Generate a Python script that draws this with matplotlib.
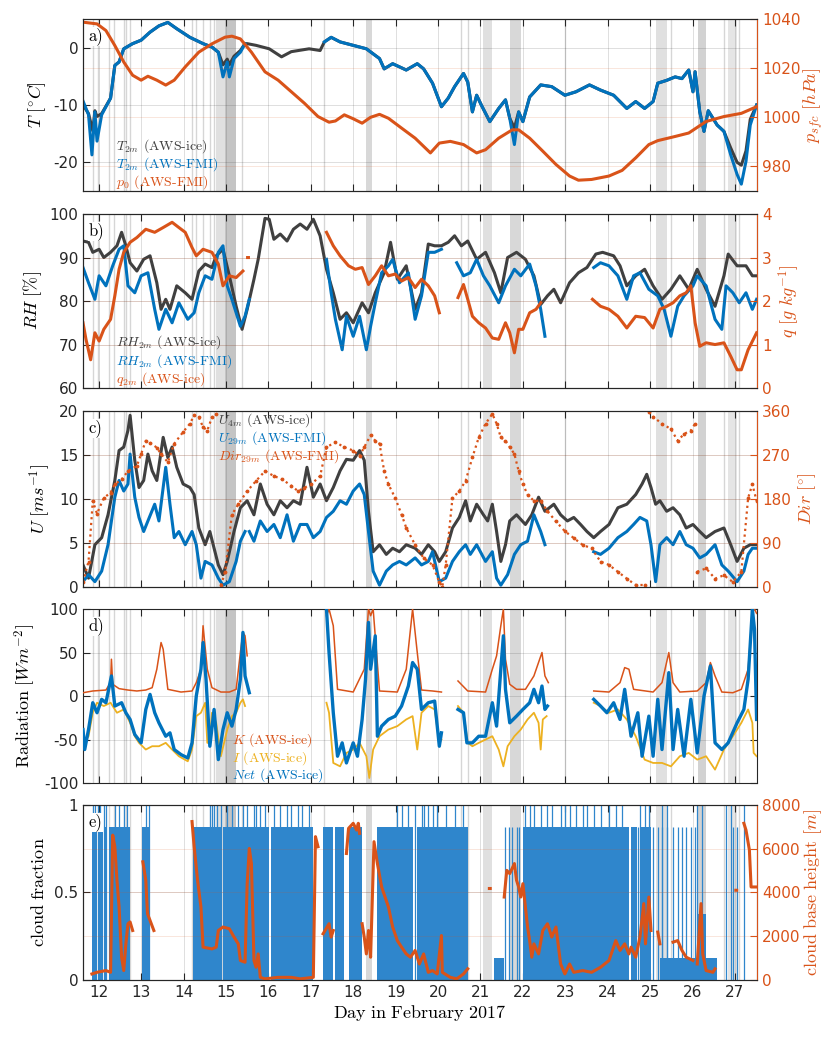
import numpy as np
import matplotlib
matplotlib.use("Agg")
import matplotlib.pyplot as plt

plt.rcParams['mathtext.fontset'] = 'cm'
plt.rcParams['axes.unicode_minus'] = False

nan = np.nan
GAP = (nan, nan)

BLUE = '#0072BD'
ORANGE = '#D95319'
YELLOW = '#EDB120'
GREY = '#404040'
BARBLUE = '#2F86CC'
AXCOL = '#262626'
SERIF = ['cmr10', 'DejaVu Serif']

XMIN, XMAX = 11.63, 27.52
day_ticks = list(range(12, 28))

# shaded periods (start day, end day, opacity) and single thin marks
shade_spans = [(14.77, 14.98, 0.22), (14.98, 15.24, 0.42), (18.31, 18.44, 0.28),
               (21.07, 21.28, 0.22), (21.69, 21.95, 0.28), (25.13, 25.39, 0.22),
               (26.12, 26.32, 0.32), (26.84, 27.05, 0.18)]
shade_lines = [11.86, 11.98, 12.25, 12.36, 12.59, 12.64, 12.74, 14.20, 14.30, 14.46,
               14.62, 14.72, 15.38, 17.30, 20.55, 20.70, 22.99, 25.49, 26.74, 27.10]

# ---- a) temperature and pressure
t2m_ice = [(11.63, -10.0), (11.76, -11.5), (11.86, -14.5), (11.91, -11.0), (11.96, -12.0),
           (12.07, -11.5), (12.28, -8.8), (12.38, -3.1), (12.48, -2.5), (12.59, -0.2),
           (12.80, 0.7), (13.00, 1.3), (13.21, 2.7), (13.42, 3.8), (13.63, 4.4),
           (13.84, 3.3), (14.15, 1.8), (14.46, 0.7), (14.67, 0.1), (14.82, -0.8),
           (14.93, -3.0), (15.03, -2.0), (15.08, -3.0), (15.19, -1.5), (15.34, -0.5),
           (15.45, 0.7), (15.50, 0.7), (15.71, 0.4), (16.02, -0.2), (16.31, -1.6),
           (16.54, -0.7), (16.96, -0.2), (17.22, -0.5), (17.32, 1.0), (17.48, 1.8),
           (17.69, 1.0), (18.00, 0.4), (18.31, -0.2), (18.62, -1.9), (18.73, -3.7),
           (18.93, -2.8), (19.25, -3.9), (19.51, -2.8), (19.66, -3.7), (19.87, -6.2),
           (20.08, -10.3), (20.24, -8.8), (20.39, -6.8), (20.60, -4.5), (20.70, -6.0),
           (20.81, -11.2), (20.91, -8.3), (21.02, -10.0), (21.22, -12.9), (21.43, -10.6),
           (21.59, -9.1), (21.69, -12.3), (21.80, -14.0), (21.90, -11.2), (22.00, -12.9),
           (22.16, -8.6), (22.42, -6.5), (22.68, -6.8), (22.99, -8.3), (23.25, -7.7),
           (23.57, -6.5), (23.83, -7.4), (24.14, -8.3), (24.45, -10.6), (24.66, -9.4),
           (24.87, -10.6), (25.07, -9.4), (25.18, -6.2), (25.39, -5.7), (25.59, -5.1),
           (25.75, -5.4), (25.91, -3.9), (26.01, -7.7), (26.06, -4.2), (26.17, -11.2),
           (26.27, -14.6), (26.37, -11.0), (26.58, -13.5), (26.74, -14.6), (26.90, -17.5),
           (27.05, -20.0), (27.15, -20.5), (27.26, -18.0), (27.36, -12.5), (27.51, -10.0)]
t2m_fmi = [(11.63, -9.3), (11.76, -11.7), (11.84, -18.7), (11.91, -11.2), (11.96, -16.3),
           (12.07, -11.7), (12.28, -8.8), (12.38, -3.1), (12.48, -2.5), (12.59, -0.2),
           (12.80, 0.7), (13.00, 1.3), (13.21, 2.7), (13.42, 3.8), (13.63, 4.4),
           (13.84, 3.3), (14.15, 1.8), (14.46, 0.7), (14.67, 0.1), (14.82, -0.8),
           (14.93, -5.1), (15.03, -2.5), (15.08, -5.1), (15.19, -1.9), (15.34, -0.8),
           (15.45, 0.7), GAP,
           (17.32, 1.0), (17.48, 1.8), (17.69, 1.0), (18.00, 0.4), (18.31, -0.2),
           (18.62, -1.9), (18.73, -3.7), (18.93, -2.8), (19.25, -3.9), (19.51, -2.8),
           (19.66, -3.7), (19.87, -6.2), (20.08, -10.3), (20.24, -8.8), (20.39, -6.8),
           (20.60, -4.5), (20.70, -6.0), (20.81, -11.2), (20.91, -8.3), (21.02, -10.0),
           (21.22, -12.9), (21.43, -10.6), (21.59, -9.1), (21.69, -12.3), (21.80, -16.9),
           (21.90, -11.2), (22.00, -12.9), (22.16, -8.6), (22.42, -6.5), (22.68, -6.8),
           (22.99, -8.3), (23.25, -7.7), (23.57, -6.5), (23.83, -7.4), (24.14, -8.3),
           (24.45, -10.6), (24.66, -9.4), (24.87, -10.6), (25.07, -9.4), (25.18, -6.2),
           (25.39, -5.7), (25.59, -5.1), (25.75, -5.4), (25.91, -3.9), (26.01, -7.7),
           (26.06, -4.2), (26.17, -11.2), (26.27, -14.6), (26.37, -11.0), (26.58, -13.5),
           (26.74, -14.6), (26.90, -18.7), (27.05, -22.1), (27.15, -23.8), (27.26, -19.8),
           (27.36, -13.5), (27.51, -10.0)]
p0_fmi = [(11.63, 1038.7), (11.96, 1038.0), (12.17, 1035.3), (12.38, 1029.2), (12.59, 1022.5),
          (12.80, 1017.1), (13.00, 1015.1), (13.16, 1016.7), (13.37, 1015.1), (13.58, 1013.1),
          (13.78, 1015.1), (14.04, 1020.5), (14.36, 1026.5), (14.67, 1029.9), (14.98, 1032.6),
          (15.14, 1033.0), (15.34, 1031.9), (15.60, 1026.5), (15.92, 1018.5), (16.23, 1015.1),
          (16.54, 1010.4), (16.85, 1005.7), (17.17, 1000.3), (17.43, 998.0), (17.58, 998.5),
          (17.79, 1001.0), (18.00, 999.4), (18.21, 997.6), (18.41, 1000.0), (18.62, 1001.2),
          (18.83, 999.6), (19.14, 995.6), (19.46, 991.5), (19.82, 985.5), (20.03, 989.5),
          (20.29, 990.2), (20.60, 988.9), (20.91, 985.5), (21.12, 986.8), (21.43, 991.5),
          (21.75, 994.9), (21.90, 994.9), (22.16, 991.5), (22.47, 986.2), (22.78, 980.8),
          (23.10, 976.1), (23.31, 974.4), (23.62, 974.7), (24.03, 976.1), (24.34, 978.4),
          (24.66, 983.5), (24.97, 988.9), (25.18, 990.5), (25.59, 992.2), (25.91, 993.6),
          (26.32, 998.3), (26.74, 1000.3), (27.15, 1001.6), (27.51, 1004.3)]

# ---- b) humidity
rh_ice = [(11.63, 93.8), (11.76, 93.5), (11.86, 91.2), (12.01, 91.9), (12.12, 90.0),
          (12.28, 91.2), (12.43, 92.7), (12.54, 95.8), (12.64, 92.7), (12.74, 88.8),
          (12.90, 86.9), (13.06, 89.6), (13.21, 90.4), (13.37, 84.2), (13.47, 78.1),
          (13.58, 80.4), (13.68, 78.1), (13.84, 83.5), (14.04, 81.9), (14.20, 80.4),
          (14.36, 86.9), (14.51, 88.5), (14.67, 87.7), (14.77, 90.4), (14.93, 91.9),
          (15.08, 85.8), (15.24, 78.8), (15.38, 73.5), (15.50, 78.1), (15.66, 85.0),
          (15.76, 89.6), (15.92, 99.0), (16.02, 98.8), (16.13, 94.2), (16.28, 95.4),
          (16.44, 93.8), (16.59, 96.5), (16.75, 97.7), (16.91, 96.5), (17.06, 98.8),
          (17.22, 95.0), (17.37, 87.3), (17.53, 81.9), (17.69, 75.8), (17.84, 77.3),
          (18.00, 75.0), (18.21, 79.6), (18.36, 77.3), (18.52, 81.9), (18.73, 86.5),
          (18.88, 93.5), (19.04, 85.0), (19.25, 88.1), (19.46, 78.1), (19.61, 81.9),
          (19.77, 93.1), (19.92, 92.7), (20.08, 92.7), (20.24, 93.5), (20.39, 95.0),
          (20.55, 92.7), (20.70, 93.8), (20.91, 89.6), (21.12, 91.2), (21.33, 86.5),
          (21.48, 81.9), (21.64, 90.0), (21.85, 91.2), (22.06, 89.6), (22.26, 85.8),
          (22.42, 79.2), (22.58, 81.2), (22.73, 82.7), (22.89, 79.6), (23.10, 84.2),
          (23.31, 86.5), (23.51, 87.7), (23.72, 90.8), (23.88, 91.2), (24.14, 90.4),
          (24.29, 88.1), (24.45, 83.5), (24.66, 85.8), (24.87, 87.3), (25.07, 83.5),
          (25.28, 80.4), (25.49, 82.7), (25.70, 85.8), (25.91, 82.7), (26.11, 87.3),
          (26.32, 82.7), (26.53, 78.8), (26.74, 85.8), (26.84, 90.8), (27.05, 88.1),
          (27.26, 88.1), (27.41, 85.8), (27.51, 85.8)]
rh_fmi = [(11.63, 87.7), (11.76, 84.2), (11.91, 80.4), (12.01, 85.8), (12.17, 83.5),
          (12.33, 88.1), (12.48, 91.9), (12.59, 92.7), (12.69, 83.5), (12.85, 81.9),
          (13.00, 85.8), (13.16, 86.5), (13.32, 78.1), (13.42, 73.5), (13.58, 78.1),
          (13.73, 75.0), (13.89, 79.6), (14.10, 75.8), (14.25, 77.3), (14.36, 81.9),
          (14.51, 85.8), (14.67, 85.0), (14.82, 91.2), (14.93, 92.7), (15.03, 83.5),
          (15.14, 80.4), (15.24, 77.3), (15.34, 74.2), (15.45, 76.5), (15.55, 80.4), GAP,
          (17.37, 89.6), (17.48, 81.9), (17.58, 75.8), (17.74, 68.8), (17.84, 76.5),
          (18.00, 71.9), (18.15, 76.5), (18.31, 68.8), (18.41, 74.2), (18.52, 79.6),
          (18.67, 86.5), (18.83, 88.1), (18.93, 89.6), (19.09, 84.2), (19.30, 86.5),
          (19.46, 75.8), (19.61, 81.2), (19.77, 91.2), (19.92, 91.2), (20.08, 91.9), GAP,
          (20.44, 88.8), (20.60, 85.8), (20.76, 86.5), (20.91, 89.6), (21.07, 85.8),
          (21.22, 83.5), (21.43, 79.6), (21.59, 83.5), (21.80, 87.3), (21.95, 85.8),
          (22.16, 88.5), (22.31, 83.5), (22.42, 78.1), (22.52, 71.9), GAP,
          (23.67, 87.7), (23.83, 88.8), (24.03, 88.1), (24.24, 85.8), (24.45, 80.4),
          (24.61, 85.8), (24.76, 86.5), (24.97, 82.7), (25.18, 81.2), (25.33, 78.1),
          (25.49, 71.9), (25.65, 78.8), (25.80, 81.2), (26.01, 83.5), (26.11, 85.8),
          (26.32, 83.5), (26.53, 75.8), (26.69, 73.5), (26.79, 83.5), (26.95, 81.9),
          (27.10, 79.6), (27.26, 81.9), (27.41, 78.1), (27.51, 80.4)]
q2m_ice = [(11.63, 1.50), (11.70, 1.12), (11.81, 0.65), (11.91, 1.27), (12.01, 1.08),
           (12.12, 1.35), (12.28, 1.58), (12.38, 2.12), (12.48, 2.73), (12.59, 3.12),
           (12.74, 3.35), (12.90, 3.46), (13.11, 3.65), (13.32, 3.58), (13.52, 3.69),
           (13.73, 3.81), (13.89, 3.69), (14.04, 3.58), (14.20, 3.23), (14.30, 3.04),
           (14.46, 3.19), (14.67, 3.12), (14.82, 2.85), (14.93, 2.35), (15.08, 2.58),
           (15.24, 2.54), (15.40, 2.69), GAP, (15.51, 3.0), (15.53, 3.0), GAP,
           (17.37, 3.58), (17.53, 3.27), (17.69, 3.04), (17.89, 2.81), (18.05, 2.73),
           (18.21, 2.77), (18.36, 2.38), (18.52, 2.58), (18.67, 2.81), (18.83, 2.58),
           (18.99, 2.62), (19.14, 2.46), (19.30, 2.54), (19.46, 2.31), (19.61, 2.50),
           (19.77, 2.35), (19.92, 2.12), (20.03, 1.73), GAP,
           (20.47, 2.08), (20.60, 2.38), (20.70, 2.04), (20.81, 1.65), (20.96, 1.50),
           (21.12, 1.38), (21.28, 1.15), (21.43, 1.12), (21.59, 1.50), (21.69, 1.27),
           (21.80, 0.81), (21.90, 1.35), (22.00, 1.35), (22.16, 1.73), (22.31, 1.81),
           (22.42, 1.96), GAP,
           (23.64, 2.04), (23.83, 1.88), (24.03, 1.81), (24.24, 1.65), (24.45, 1.38),
           (24.66, 1.65), (24.87, 1.62), (25.07, 1.38), (25.23, 1.81), (25.39, 1.88),
           (25.54, 1.96), (25.70, 2.12), (25.85, 2.19), (25.96, 2.35), (26.06, 1.50),
           (26.17, 0.96), (26.32, 1.04), (26.53, 1.00), (26.74, 1.04), (26.90, 0.73),
           (27.05, 0.42), (27.15, 0.42), (27.31, 0.88), (27.51, 1.27)]

# ---- c) wind
u4m_ice = [(11.63, 2.5), (11.76, 1.0), (11.91, 4.8), (12.07, 5.6), (12.22, 8.2), (12.38, 12.1),
           (12.48, 15.5), (12.59, 15.9), (12.69, 17.8), (12.74, 19.5), (12.85, 14.4),
           (12.95, 11.3), (13.06, 12.1), (13.16, 15.1), (13.26, 13.2), (13.37, 12.1),
           (13.52, 17.0), (13.63, 14.7), (13.73, 15.9), (13.84, 13.6), (13.99, 11.7),
           (14.15, 11.3), (14.25, 10.5), (14.36, 6.7), (14.51, 4.8), (14.62, 6.3),
           (14.72, 4.4), (14.82, 2.5), (14.93, 1.4), (15.03, 2.9), (15.19, 6.3),
           (15.34, 9.0), (15.50, 9.8), (15.66, 8.2), (15.81, 11.7), (15.97, 9.4),
           (16.13, 8.2), (16.28, 9.8), (16.44, 9.0), (16.59, 9.8), (16.75, 9.4),
           (16.91, 13.6), (17.06, 10.2), (17.22, 11.7), (17.37, 9.8), (17.53, 11.3),
           (17.69, 13.2), (17.84, 14.5), (18.00, 14.4), (18.15, 15.5), (18.26, 14.4),
           (18.36, 8.6), (18.47, 4.0), (18.62, 4.8), (18.78, 3.7), (18.93, 4.4),
           (19.09, 4.0), (19.25, 4.8), (19.46, 4.4), (19.61, 3.7), (19.77, 4.8),
           (19.92, 4.0), (20.03, 2.9), (20.18, 4.0), (20.34, 6.7), (20.50, 7.9),
           (20.65, 9.8), (20.76, 7.5), (20.91, 9.4), (21.07, 8.2), (21.17, 7.5),
           (21.28, 9.4), (21.38, 6.3), (21.48, 2.9), (21.59, 4.8), (21.69, 7.5),
           (21.85, 8.2), (22.06, 7.1), (22.21, 8.2), (22.37, 10.2), (22.52, 8.6),
           (22.73, 9.4), (22.89, 8.2), (23.05, 7.5), (23.20, 7.9), (23.36, 7.1),
           (23.51, 6.3), (23.67, 5.6), (23.83, 6.3), (24.03, 7.1), (24.24, 9.0),
           (24.45, 9.4), (24.66, 10.5), (24.81, 11.7), (24.92, 12.8), (25.02, 11.3),
           (25.13, 9.4), (25.23, 9.8), (25.39, 8.6), (25.54, 9.0), (25.70, 8.2),
           (25.85, 6.7), (26.01, 7.1), (26.17, 6.3), (26.32, 5.6), (26.53, 6.3),
           (26.74, 6.7), (26.90, 4.8), (27.05, 2.9), (27.21, 4.4), (27.36, 4.8), (27.51, 4.8)]
u29m_fmi = [(11.63, 0.6), (11.76, 1.4), (11.91, 0.6), (12.07, 1.8), (12.22, 4.8), (12.38, 10.2),
            (12.48, 12.1), (12.59, 10.9), (12.69, 11.7), (12.74, 15.1), (12.85, 10.2),
            (12.95, 7.9), (13.06, 6.3), (13.16, 7.5), (13.32, 9.4), (13.42, 7.5),
            (13.58, 13.6), (13.68, 9.4), (13.78, 5.6), (13.89, 6.3), (14.04, 4.8),
            (14.20, 6.3), (14.30, 4.8), (14.41, 1.0), (14.51, 2.9), (14.67, 2.5),
            (14.82, 1.0), (14.93, 0.2), (15.08, 0.6), (15.24, 2.9), (15.34, 5.2),
            (15.45, 6.3), GAP,
            (15.55, 6.3), (15.66, 5.2), (15.81, 7.5), (15.97, 6.3), (16.13, 7.1),
            (16.28, 5.6), (16.44, 8.2), (16.59, 5.2), (16.75, 7.1), (16.91, 7.1),
            (17.06, 5.6), (17.22, 6.3), (17.37, 7.9), (17.53, 8.6), (17.69, 9.8),
            (17.84, 9.4), (18.00, 10.9), (18.15, 11.7), (18.26, 10.5), (18.36, 6.3),
            (18.47, 1.8), (18.62, 0.2), (18.78, 1.8), (18.93, 2.5), (19.09, 2.9),
            (19.25, 2.5), (19.46, 3.3), (19.61, 2.5), (19.77, 2.9), (19.87, 4.0),
            (20.03, 0.6), (20.18, 1.0), (20.34, 2.9), (20.50, 4.0), (20.65, 4.8),
            (20.76, 3.7), (20.91, 4.8), (21.12, 2.9), (21.28, 4.0), (21.38, 1.0),
            (21.48, 0.2), (21.64, 1.4), (21.80, 3.7), (21.95, 4.8), (22.11, 5.2),
            (22.26, 8.2), (22.42, 6.3), (22.52, 4.8), GAP,
            (23.67, 4.0), (23.83, 3.7), (24.03, 4.4), (24.24, 5.6), (24.45, 6.3),
            (24.61, 7.1), (24.76, 7.9), (24.92, 7.5), (25.02, 4.8), (25.13, 0.6),
            (25.23, 4.8), (25.39, 5.6), (25.54, 4.8), (25.70, 6.3), (25.85, 4.8),
            (26.01, 4.4), (26.17, 3.3), (26.32, 3.7), (26.53, 4.8), (26.69, 2.5),
            (26.84, 1.8), (27.05, 0.6), (27.21, 1.8), (27.31, 3.7), (27.41, 4.4), (27.51, 4.4)]
dir29m_fmi = [(11.63, 10), (11.76, 52), (11.86, 176), (11.96, 150), (12.12, 182), (12.28, 193),
              (12.38, 210), (12.54, 220), (12.69, 237), (12.90, 248), (13.00, 272),
              (13.11, 299), (13.21, 295), (13.37, 285), (13.47, 272), (13.63, 255),
              (13.78, 293), (13.99, 317), (14.15, 334), (14.25, 351), (14.36, 347),
              (14.46, 327), (14.56, 320), (14.67, 347), (14.77, 354), GAP,
              (14.88, 3), (14.98, 31), (15.14, 148), (15.29, 169), (15.50, 196),
              (15.71, 217), (15.92, 237), (16.13, 227), (16.33, 220), (16.54, 207),
              (16.70, 196), (16.85, 203), (17.01, 210), (17.22, 227), (17.37, 286),
              (17.58, 296), (17.79, 286), (18.00, 279), (18.15, 268), (18.26, 286),
              (18.41, 310), (18.52, 299), (18.62, 293), (18.73, 237), (18.83, 210),
              (18.99, 182), (19.14, 148), (19.25, 121), (19.46, 86), (19.66, 59),
              (19.87, 45), (20.03, 10), (20.10, 0), (20.18, 45), (20.34, 182),
              (20.50, 196), (20.65, 217), (20.81, 265), (20.96, 306), (21.12, 334),
              (21.28, 354), (21.38, 334), (21.48, 306), (21.59, 299), (21.69, 286),
              (21.80, 272), (21.90, 237), (22.00, 210), (22.11, 189), (22.26, 176),
              (22.42, 176), (22.58, 155), (22.78, 134), (22.99, 114), (23.20, 100),
              (23.41, 86), (23.62, 79), (23.83, 52), (24.03, 45), (24.24, 31),
              (24.45, 17), (24.66, 4), (24.87, 4), GAP,
              (24.97, 358), (25.07, 348), (25.28, 334), (25.49, 323), (25.65, 299),
              (25.80, 313), (25.96, 320), (26.06, 334), GAP,
              (26.11, 31), (26.32, 38), (26.53, 17), (26.74, 24), (26.95, 10),
              (27.15, 31), (27.31, 182), (27.41, 210), (27.51, 176)]

# ---- d) radiation
k_ice = [(11.63, 3.8), (11.86, 5.8), (12.17, 6.9), (12.28, 15.4), (12.30, 42.3), (12.33, 13.5),
         (12.48, 8.5), (12.69, 6.9), (12.90, 5.8), (13.11, 6.9), (13.26, 9.6), (13.37, 30.8),
         (13.47, 61.5), (13.52, 53.8), (13.63, 7.7), (13.94, 4.6), (14.20, 5.8), (14.30, 15.4),
         (14.41, 30.8), (14.46, 80.8), (14.56, 30.8), (14.67, 9.6), (14.88, 4.6), (15.08, 4.6),
         (15.24, 7.7), (15.34, 50.0), (15.40, 73.1), (15.45, 69.2), (15.50, 46.2), GAP,
         (17.37, 92.3), (17.43, 100), (17.53, 80.8), (17.63, 7.7), (18.00, 4.6), (18.26, 30.8),
         (18.36, 100), (18.41, 92.3), (18.47, 100), (18.62, 5.8), (19.04, 4.6), (19.25, 30.8),
         (19.40, 100), (19.51, 50.0), (19.61, 6.9), (19.87, 5.8), (20.08, 4.6), GAP,
         (20.47, 17.3), (20.70, 5.8), (21.12, 4.6), (21.28, 30.8), (21.38, 46.2), (21.48, 80.8),
         (21.54, 100), (21.59, 42.3), (21.69, 13.5), (21.85, 7.7), (22.06, 7.7), (22.26, 23.1),
         (22.45, 50.0), (22.52, 23.1), (22.60, 15.4), GAP,
         (23.67, 5.8), (24.03, 4.6), (24.29, 15.4), (24.40, 32.7), (24.50, 30.8), (24.61, 7.7),
         (25.07, 4.6), (25.28, 15.4), (25.44, 50.0), (25.54, 15.4), (25.70, 4.6), (26.11, 5.8),
         (26.32, 15.4), (26.42, 38.5), (26.53, 23.1), (26.69, 4.6), (26.95, 3.8), (27.15, 7.7),
         (27.31, 30.8), (27.41, 96.2), (27.46, 100), (27.51, 95.0)]
i_ice = [(11.63, -53.8), (11.76, -46.2), (11.86, -19.2), (11.96, -7.7), (12.12, -11.5),
         (12.28, -7.7), (12.43, -19.2), (12.59, -15.4), (12.74, -30.8), (12.85, -46.2),
         (12.95, -53.8), (13.11, -61.5), (13.26, -57.7), (13.42, -57.7), (13.58, -53.8),
         (13.73, -61.5), (13.89, -69.2), (14.10, -75.0), (14.20, -61.5), (14.30, -23.1),
         (14.41, -19.2), (14.51, -7.7), (14.56, -53.8), (14.62, -53.8), (14.67, -19.2),
         (14.77, -30.8), (14.88, -69.2), (15.03, -38.5), (15.14, -23.1), (15.24, -19.2),
         (15.34, -7.7), (15.40, -3.8), (15.45, -11.5), GAP,
         (17.37, -7.7), (17.43, -19.2), (17.53, -76.9), (17.69, -80.8), (17.84, -65.4),
         (18.00, -61.5), (18.15, -53.8), (18.31, -69.2), (18.38, -94.2), (18.47, -61.5),
         (18.62, -46.2), (18.83, -38.5), (19.04, -34.6), (19.25, -26.9), (19.40, -23.1),
         (19.51, -61.5), (19.61, -19.2), (19.77, -11.5), (19.92, -15.4), (20.03, -53.8),
         (20.08, -50.0), GAP,
         (20.47, -11.5), (20.60, -19.2), (20.70, -53.8), (20.81, -57.7), (20.96, -53.8),
         (21.12, -50.0), (21.28, -46.2), (21.43, -61.5), (21.54, -80.8), (21.64, -57.7),
         (21.80, -46.2), (21.95, -38.5), (22.11, -26.9), (22.26, -19.2), (22.37, -30.8),
         (22.42, -61.5), (22.47, -26.9), (22.56, -23.1), GAP,
         (23.67, -7.7), (23.83, -11.5), (24.03, -19.2), (24.24, -15.4), (24.45, -26.9),
         (24.66, -46.2), (24.87, -73.1), (25.07, -76.9), (25.28, -76.9), (25.49, -80.8),
         (25.70, -69.2), (25.91, -65.4), (26.11, -73.1), (26.32, -69.2), (26.53, -84.6),
         (26.74, -61.5), (26.95, -46.2), (27.15, -30.8), (27.31, -15.4), (27.41, -30.8),
         (27.44, -65.4), (27.51, -69.2)]
net_ice = [(11.63, -38.5), (11.67, -61.5), (11.76, -38.5), (11.86, -7.7), (11.96, -19.2),
           (12.07, -3.8), (12.17, -7.7), (12.30, 23.1), (12.38, -11.5), (12.54, -7.7),
           (12.64, -19.2), (12.74, -26.9), (12.85, -44.2), (13.00, -53.8), (13.11, -15.4),
           (13.21, 1.9), (13.32, -19.2), (13.42, -30.8), (13.58, -46.2), (13.68, -42.3),
           (13.78, -61.5), (13.94, -67.3), (14.10, -71.2), (14.20, -53.8), (14.30, 0.0),
           (14.41, 30.8), (14.46, 61.5), (14.53, 19.2), (14.62, -57.7), (14.72, -15.4),
           (14.82, -73.1), (14.93, -38.5), (15.03, -19.2), (15.14, -34.6), (15.24, -15.4),
           (15.34, 19.2), (15.40, 73.1), (15.45, 23.1), (15.55, 3.8), GAP,
           (17.37, 100), (17.43, 50.0), (17.53, -19.2), (17.63, -69.2), (17.74, -53.8),
           (17.84, -76.9), (18.00, -53.8), (18.10, -69.2), (18.21, -26.9), (18.29, 19.2),
           (18.36, 84.6), (18.41, 30.8), (18.52, 69.2), (18.57, -46.2), (18.67, -34.6),
           (18.83, -26.9), (18.99, -23.1), (19.14, -11.5), (19.30, 11.5), (19.40, 38.5),
           (19.51, 30.8), (19.61, -15.4), (19.77, -7.7), (19.92, -5.8), (20.03, -57.7),
           (20.08, -42.3), GAP,
           (20.47, -15.4), (20.60, -19.2), (20.68, -53.8), (20.81, -53.8), (20.96, -46.2),
           (21.12, -46.2), (21.28, -7.7), (21.38, -34.6), (21.48, 30.8), (21.54, 69.2),
           (21.59, 7.7), (21.69, -30.8), (21.85, -23.1), (22.00, -15.4), (22.16, -7.7),
           (22.26, 7.7), (22.37, -7.7), (22.45, 11.5), (22.52, -15.4), (22.58, -11.5), GAP,
           (23.67, -3.8), (23.83, -11.5), (23.98, -19.2), (24.14, -7.7), (24.29, -26.9),
           (24.40, 7.7), (24.55, -46.2), (24.71, -19.2), (24.81, -69.2), (24.97, -23.1),
           (25.07, -69.2), (25.18, -3.8), (25.28, -61.5), (25.44, 26.9), (25.54, -61.5),
           (25.65, -15.4), (25.80, -69.2), (25.96, -3.8), (26.11, -65.4), (26.27, 0.0),
           (26.42, 34.6), (26.53, -53.8), (26.69, -61.5), (26.84, -53.8), (27.05, -30.8),
           (27.21, -15.4), (27.31, 19.2), (27.41, 100), (27.46, 76.9), (27.51, -26.9)]

# ---- e) clouds: (start day, end day, cloud fraction)
cloud_blocks = [(11.84, 11.95, 0.875), (11.98, 12.10, 0.875), (12.12, 12.19, 0.875),
                (12.25, 12.74, 0.875), (13.03, 13.21, 0.875), (14.23, 14.88, 0.875),
                (14.93, 16.02, 0.875), (16.07, 17.06, 0.875), (17.29, 17.53, 0.875),
                (17.58, 17.79, 0.875), (17.89, 18.21, 0.875), (18.57, 19.40, 0.875),
                (19.51, 20.70, 0.875), (22.00, 24.50, 0.875), (24.55, 24.70, 0.875),
                (24.78, 25.02, 0.875), (25.23, 26.12, 0.125), (26.12, 26.32, 0.375),
                (26.32, 26.58, 0.125), (21.33, 21.56, 0.125)]
overcast_times = [11.86, 11.91, 11.98, 12.04, 12.12, 12.17, 12.38, 12.48, 12.59, 12.67,
                  13.11, 13.19, 14.62, 14.67, 14.72, 14.79, 14.88, 15.03, 15.14, 15.29,
                  15.40, 15.50, 15.66, 15.71, 15.81, 15.92, 16.13, 16.28, 16.44, 16.54,
                  16.70, 16.80, 16.96, 19.04, 19.14, 19.30, 19.46, 19.61, 19.66, 19.77,
                  19.87, 19.98, 20.18, 20.39, 20.60, 22.06, 22.16, 22.26, 22.42, 22.58,
                  22.68, 22.89, 22.99, 23.10, 23.25, 23.41, 23.51, 23.67, 23.83, 24.03,
                  24.19, 24.34, 24.76, 24.87, 24.97, 25.28, 25.39, 26.11, 26.22, 26.79,
                  26.90, 27.21]
broken_times = [21.59, 21.67, 21.75, 21.85, 21.90, 24.61, 24.71, 25.07, 25.18, 25.28,
                25.39, 25.54, 25.65, 25.75, 25.85, 25.96, 26.06, 26.95, 27.05]
cbh_ice = [(11.84, 275), (11.96, 350), (12.17, 430), (12.28, 350), (12.33, 6620), (12.38, 6090),
           (12.43, 4560), (12.48, 3340), (12.54, 1040), (12.59, 430), (12.64, 1650),
           (12.69, 2570), (12.74, 2650), (12.80, 2260), GAP,
           (13.04, 5400), (13.11, 4560), (13.15, 3030), (13.21, 2720), (13.30, 2260), GAP,
           (14.20, 7240), (14.25, 6090), (14.33, 4560), (14.41, 3340), (14.46, 1500),
           (14.67, 1420), (14.77, 1500), (14.82, 2260), (14.93, 2420), (15.08, 2340),
           (15.19, 1960), (15.29, 1650), (15.34, 890), (15.45, 810), (15.50, 4400),
           (15.55, 6010), (15.60, 5320), (15.66, 890), (15.71, 580), (15.76, 1190),
           (15.81, 120), (15.92, 50), (16.23, 120), (16.54, 120), (16.75, 50), (17.06, 120),
           (17.11, 6550), (17.17, 6090), GAP,
           (17.29, 2110), (17.43, 2570), (17.48, 1960), (17.53, 2260), GAP,
           (17.84, 5780), (17.89, 6930), (18.00, 7160), (18.08, 6850), (18.12, 7160),
           (18.15, 6700), GAP,
           (18.21, 2570), (18.26, 1960), (18.31, 1190), (18.36, 2260), (18.41, 1040),
           (18.49, 6320), (18.57, 5320), (18.67, 4250), (18.83, 3340), (18.93, 2420),
           (19.04, 1800), (19.14, 1500), (19.25, 1190), (19.35, 1040), (19.46, 1350),
           (19.56, 730), (19.66, 1190), (19.77, 350), (19.87, 430), (19.98, 275),
           (20.08, 2030), (20.10, 350), (20.29, 120), (20.44, 50), (20.60, 275), (20.70, 510), GAP,
           (21.21, 4180), (21.23, 4180), GAP,
           (21.56, 3790), (21.62, 5010), (21.69, 4860), (21.80, 5320), (21.85, 4560),
           (21.90, 4250), (21.95, 3790), (22.00, 4400), (22.06, 3340), (22.11, 2420),
           (22.16, 1800), (22.21, 1040), (22.26, 1650), (22.37, 1190), (22.47, 2260),
           (22.58, 2570), (22.68, 1960), (22.78, 2420), (22.89, 730), (22.99, 275),
           (23.10, 730), (23.20, 350), (23.41, 430), (23.62, 350), (23.83, 580),
           (24.03, 890), (24.19, 1800), (24.29, 1350), (24.40, 1650), (24.50, 1190),
           (24.55, 1500), (24.66, 1040), (24.76, 1960), (24.85, 3490), (24.89, 1650),
           (24.97, 3790), (25.02, 2260), GAP,
           (25.18, 2190), (25.23, 1650), GAP,
           (25.54, 1730), (25.65, 1800), (25.75, 1350), (25.85, 1040), (26.01, 890), GAP,
           (26.11, 730), (26.20, 3490), (26.24, 1190), (26.32, 430), (26.48, 350),
           (26.53, 510), GAP,
           (27.02, 4100), (27.04, 4100), GAP,
           (27.21, 7160), (27.26, 6850), (27.34, 5940), (27.38, 4250), (27.43, 4250),
           (27.51, 4250)]


def xy(pairs):
    arr = np.array(pairs, dtype=float)
    return arr[:, 0], arr[:, 1]


def base_axes(fig, rect, letter, show_xlabels=False, twin=True):
    ax = fig.add_axes(rect)
    ax.set_xlim(XMIN, XMAX)
    ax.set_xticks(day_ticks)
    if not show_xlabels:
        ax.set_xticklabels([])
    ax.tick_params(direction='in', length=5, top=True, right=not twin,
                   labelsize=11, colors=AXCOL, width=0.8)
    ax.grid(True, color=AXCOL, alpha=0.15, linewidth=0.7)
    for sp in ax.spines.values():
        sp.set_color(AXCOL)
        sp.set_linewidth(0.8)
    for start, end, a in shade_spans:
        ax.axvspan(start, end, color='0.45', alpha=a, lw=0, zorder=1)
    for d in shade_lines:
        ax.axvline(d, color='0.55', alpha=0.35, lw=1.0, zorder=1)
    ax.text(0.008, 0.9, letter, transform=ax.transAxes, family=SERIF, fontsize=12,
            va='center', ha='left', zorder=10,
            bbox=dict(facecolor='white', edgecolor='none', pad=0.5))
    ax2 = None
    if twin:
        ax2 = ax.twinx()
        ax2.set_xlim(XMIN, XMAX)
        ax2.tick_params(axis='y', direction='in', length=5, colors=ORANGE,
                        labelsize=11, width=0.8)
        ax2.grid(axis='y', color=ORANGE, alpha=0.15, linewidth=0.7)
        for name, sp in ax2.spines.items():
            sp.set_color(ORANGE if name == 'right' else AXCOL)
            sp.set_linewidth(0.8)
    return ax, ax2


def legend_text(ax, x, y0, step, entries):
    for n, (txt, col) in enumerate(entries):
        ax.text(x, y0 - n * step, txt, transform=ax.transAxes, color=col, family=SERIF,
                fontsize=10, va='center', ha='left', zorder=12)


fig = plt.figure(figsize=(8.26, 10.37), dpi=100)
LEFT, WIDTH = 0.1005, 0.816
LFS = 13

# a)
ax, ax2 = base_axes(fig, [LEFT, 0.8158, WIDTH, 0.1659], 'a)')
ax.plot(*xy(t2m_ice), color=GREY, lw=2.2, zorder=3)
ax.plot(*xy(t2m_fmi), color=BLUE, lw=2.2, zorder=4)
ax.set_ylim(-25, 5)
ax.set_yticks([-20, -10, 0])
ax.set_ylabel(r'$T\ [^{\circ}C]$', fontsize=LFS)
ax2.plot(*xy(p0_fmi), color=ORANGE, lw=2.2)
ax2.set_ylim(970, 1040)
ax2.set_yticks([980, 1000, 1020, 1040])
ax2.set_ylabel(r'$p_{sfc}\ [hPa]$', fontsize=LFS, color=ORANGE, labelpad=1)
legend_text(ax, 0.049, 0.262, 0.104,
            [(r'$T_{2m}$ (AWS-ice)', GREY), (r'$T_{2m}$ (AWS-FMI)', BLUE),
             (r'$p_0$ (AWS-FMI)', ORANGE)])

# b)
ax, ax2 = base_axes(fig, [LEFT, 0.6258, WIDTH, 0.1678], 'b)')
ax.plot(*xy(rh_ice), color=GREY, lw=2.2, zorder=3)
ax.plot(*xy(rh_fmi), color=BLUE, lw=2.2, zorder=4)
ax.set_ylim(60, 100)
ax.set_yticks([60, 70, 80, 90, 100])
ax.set_ylabel(r'$RH\ [\%]$', fontsize=LFS)
ax2.plot(*xy(q2m_ice), color=ORANGE, lw=2.2)
ax2.set_ylim(0, 4)
ax2.set_yticks([0, 1, 2, 3, 4])
ax2.set_ylabel(r'$q\ [g\ kg^{-1}]$', fontsize=LFS, color=ORANGE, labelpad=4)
legend_text(ax, 0.049, 0.262, 0.105,
            [(r'$RH_{2m}$ (AWS-ice)', GREY), (r'$RH_{2m}$ (AWS-FMI)', BLUE),
             (r'$q_{2m}$ (AWS-ice)', ORANGE)])

# c)
ax, ax2 = base_axes(fig, [LEFT, 0.4340, WIDTH, 0.1697], 'c)')
ax.plot(*xy(u4m_ice), color=GREY, lw=2.2, zorder=3)
ax.plot(*xy(u29m_fmi), color=BLUE, lw=2.2, zorder=4)
ax.set_ylim(0, 20)
ax.set_yticks([0, 5, 10, 15, 20])
ax.set_ylabel(r'$U\ [ms^{-1}]$', fontsize=LFS)
ax2.plot(*xy(dir29m_fmi), color=ORANGE, lw=1.6, ls=(0, (1, 1.6)),
         marker='.', ms=3.5)
ax2.set_ylim(0, 360)
ax2.set_yticks([0, 90, 180, 270, 360])
ax2.set_ylabel(r'$Dir\ [^{\circ}]$', fontsize=LFS, color=ORANGE, labelpad=4)
legend_text(ax, 0.20, 0.948, 0.102,
            [(r'$U_{4m}$ (AWS-ice)', GREY), (r'$U_{29m}$ (AWS-FMI)', BLUE),
             (r'$Dir_{29m}$ (AWS-FMI)', ORANGE)])

# d)
ax, _ = base_axes(fig, [LEFT, 0.2449, WIDTH, 0.1678], 'd)', twin=False)
ax.plot(*xy(k_ice), color=ORANGE, lw=1.1, zorder=3)
ax.plot(*xy(i_ice), color=YELLOW, lw=1.3, zorder=4)
ax.plot(*xy(net_ice), color=BLUE, lw=2.4, zorder=5)
ax.set_ylim(-100, 100)
ax.set_yticks([-100, -50, 0, 50, 100])
ax.set_ylabel(r'$\mathrm{Radiation}\ [Wm^{-2}]$', fontsize=LFS)
legend_text(ax, 0.221, 0.245, 0.1,
            [(r'$K$ (AWS-ice)', ORANGE), (r'$I$ (AWS-ice)', YELLOW),
             (r'$Net$ (AWS-ice)', BLUE)])

# e)
ax, ax2 = base_axes(fig, [LEFT, 0.0550, WIDTH, 0.1688], 'e)', show_xlabels=True)
starts = [b[0] for b in cloud_blocks]
widths = [b[1] - b[0] for b in cloud_blocks]
levels = [b[2] for b in cloud_blocks]
ax.bar(starts, levels, width=widths, align='edge', color=BARBLUE, lw=0, zorder=2)
ax.vlines(overcast_times, 0, 1.0, color=BARBLUE, lw=0.9, zorder=2)
ax.vlines(broken_times, 0, 0.875, color=BARBLUE, lw=0.9, zorder=2)
ax.set_ylim(0, 1)
ax.set_yticks([0, 0.5, 1])
ax.set_yticklabels(['0', '0.5', '1'])
ax.set_ylabel(r'$\mathrm{cloud\ fraction}$', fontsize=LFS)
ax.set_xlabel(r'$\mathrm{Day\ in\ February\ 2017}$', fontsize=LFS, labelpad=2)
ax2.plot(*xy(cbh_ice), color=ORANGE, lw=2.2)
ax2.set_ylim(0, 8000)
ax2.set_yticks([0, 2000, 4000, 6000, 8000])
ax2.set_ylabel(r'$\mathrm{cloud\ base\ height}\ [m]$', fontsize=LFS, color=ORANGE,
               labelpad=1)

fig.savefig('out.png', dpi=100)
